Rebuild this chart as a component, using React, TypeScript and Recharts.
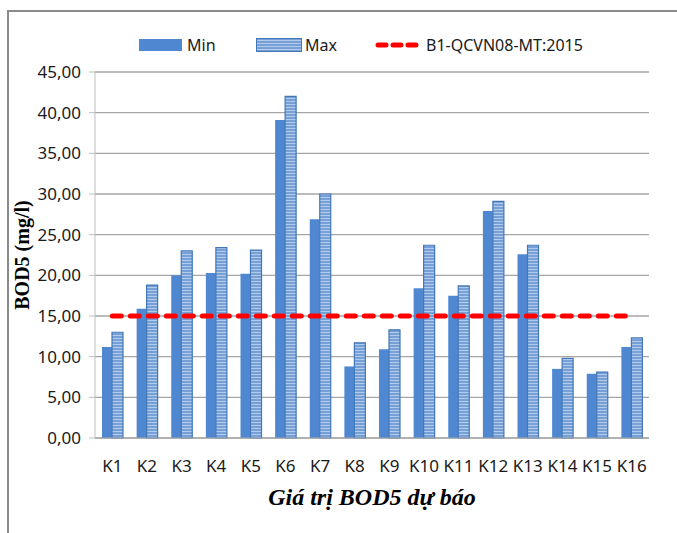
import { Bar, CartesianGrid, ComposedChart, Line, XAxis, YAxis } from "recharts";

const stations = ["K1", "K2", "K3", "K4", "K5", "K6", "K7", "K8", "K9", "K10", "K11", "K12", "K13", "K14", "K15", "K16"];
const minValues = [11.2, 15.9, 20.0, 20.3, 20.2, 39.1, 26.9, 8.8, 10.9, 18.4, 17.5, 27.9, 22.6, 8.5, 7.9, 11.2];
const maxValues = [13.0, 18.8, 23.0, 23.4, 23.1, 42.0, 30.0, 11.7, 13.3, 23.7, 18.7, 29.1, 23.7, 9.8, 8.1, 12.3];
const limitValues = [15, 15, 15, 15, 15, 15, 15, 15, 15, 15, 15, 15, 15, 15, 15, 15];
const yTicks = [0, 5, 10, 15, 20, 25, 30, 35, 40, 45];

const data = stations.map((name, i) => ({
  name,
  min: minValues[i],
  max: maxValues[i],
  limit: limitValues[i],
}));

const MIN_COLOR = "#4f88d1";
const MAX_BORDER = "#4277b8";
const GRID = "#a6a6a6";
const sans = "'Noto Sans', 'Open Sans', sans-serif";
const serif = "'Liberation Serif', 'Times New Roman', serif";

const fmt = (v: number) => v.toFixed(2).replace(".", ",");

function LegendRow() {
  const text: React.CSSProperties = {
    position: "absolute",
    top: 33,
    fontFamily: sans,
    fontSize: 16,
    color: "#1a1a1a",
    lineHeight: "24px",
  };
  return (
    <>
      <div style={{ position: "absolute", left: 139, top: 39, width: 43, height: 12, background: MIN_COLOR }} />
      <span style={{ ...text, left: 187 }}>Min</span>
      <svg style={{ position: "absolute", left: 256, top: 38 }} width={46} height={14}>
        <rect x={0.5} y={0.5} width={45} height={13} fill="url(#maxStripes)" stroke={MAX_BORDER} />
      </svg>
      <span style={{ ...text, left: 305 }}>Max</span>
      <svg style={{ position: "absolute", left: 374, top: 39 }} width={48} height={12}>
        <line x1={4} y1={6} x2={44} y2={6} stroke="#ff0000" strokeWidth={5} strokeDasharray="8 7" strokeLinecap="round" />
      </svg>
      <span style={{ ...text, left: 426 }}>B1-QCVN08-MT:2015</span>
    </>
  );
}

export default function App() {
  return (
    <div style={{ position: "absolute", left: 0, top: 0, width: 677, height: 533, background: "#fff", overflow: "hidden" }}>
      <svg width={0} height={0} style={{ position: "absolute" }}>
        <defs>
          <pattern id="maxStripes" patternUnits="userSpaceOnUse" width={4} height={3}>
            <rect width={4} height={3} fill="#76a0d6" />
            <rect y={2} width={4} height={1} fill="#b3cbeb" />
          </pattern>
        </defs>
      </svg>
      <div
        style={{
          position: "absolute",
          left: 7,
          top: 10,
          width: 680,
          height: 540,
          borderTop: "2px solid #8a8a8a",
          borderLeft: "2px solid #8a8a8a",
        }}
      />
      <ComposedChart
        width={677}
        height={533}
        data={data}
        margin={{ top: 72, right: 28, bottom: 28, left: 0 }}
        barGap={0}
        style={{ position: "absolute", left: 0, top: 0 }}
      >
        <CartesianGrid vertical={false} stroke={GRID} strokeWidth={1.3} />
        <XAxis
          dataKey="name"
          height={67}
          axisLine={{ stroke: GRID }}
          tickLine={false}
          tickMargin={16}
          interval={0}
          tick={{ fontFamily: sans, fontSize: 17, fill: "#1a1a1a" }}
          label={{
            value: "Giá trị BOD5 dự báo",
            position: "insideBottom",
            offset: 0,
            style: { fontFamily: serif, fontSize: 24, fontWeight: "bold", fontStyle: "italic", fill: "#000" },
          }}
        />
        <YAxis
          width={95}
          domain={[0, 45]}
          ticks={yTicks}
          interval={0}
          tickFormatter={fmt}
          axisLine={{ stroke: "#bfbfbf" }}
          tickLine={{ stroke: "#bfbfbf" }}
          tickSize={6}
          tickMargin={8}
          tick={{ fontFamily: sans, fontSize: 17, fill: "#1a1a1a" }}
          label={{
            value: "BOD5 (mg/l)",
            angle: -90,
            position: "insideLeft",
            offset: 22,
            style: { textAnchor: "middle", fontFamily: serif, fontSize: 20, fontWeight: "bold", fill: "#000" },
          }}
        />
        <Bar dataKey="min" barSize={10} fill={MIN_COLOR} isAnimationActive={false} />
        <Bar dataKey="max" barSize={11} fill="url(#maxStripes)" stroke={MAX_BORDER} strokeWidth={1.2} isAnimationActive={false} />
        <Line
          dataKey="limit"
          stroke="#ff0000"
          strokeWidth={5}
          strokeDasharray="9 9"
          strokeLinecap="round"
          dot={false}
          activeDot={false}
          isAnimationActive={false}
        />
      </ComposedChart>
      <LegendRow />
    </div>
  );
}
